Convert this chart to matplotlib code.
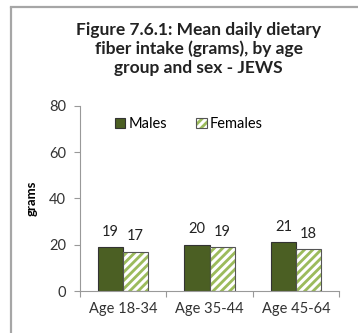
import matplotlib
matplotlib.use("Agg")
from matplotlib import pyplot as plt
from matplotlib.lines import Line2D
from matplotlib.patches import Patch
import numpy as np

groups = ["Age 18-34", "Age 35-44", "Age 45-64"]
males = [19, 20, 21]
females = [17, 19, 18]

plt.rcParams['font.family'] = ['Lato', 'DejaVu Sans']
plt.rcParams['hatch.linewidth'] = 2.2

fig = plt.figure(figsize=(3.58, 3.33), dpi=100)
ax = fig.add_axes([0.2235, 0.126, 0.7235, 0.556])

green = '#9cbb5c'
x = np.arange(len(groups))
w = 0.29
b1 = ax.bar(x - w/2, males, w, color='#4b5f23', edgecolor='#333333', linewidth=0.8)
# hatched fill first (white stripes), then the outline on top
ax.bar(x + w/2, females, w, color=green, edgecolor='white', linewidth=0, hatch='////')
b2 = ax.bar(x + w/2, females, w, fill=False, edgecolor='#555555', linewidth=0.8)

for bars in (b1, b2):
    for r in bars:
        ax.annotate("%d" % r.get_height(), (r.get_x() + r.get_width()/2, r.get_height()),
                    xytext=(0, 6), textcoords='offset points', ha='center', va='bottom',
                    fontsize=10.5, color='#222222')

ax.set_xlim(-0.5, 2.5)
ax.set_ylim(0, 80)
ax.set_yticks([0, 20, 40, 60, 80])
ax.set_xticks([-0.5, 0.5, 1.5, 2.5])
ax.set_xticklabels([])
ax.set_xticks(x, minor=True)
ax.set_xticklabels(groups, minor=True)
ax.tick_params(axis='x', which='minor', length=0, labelsize=10.5, pad=8, labelcolor='#333333')
ax.tick_params(axis='x', which='major', length=4, color='#999999')
ax.tick_params(axis='y', length=4, color='#999999', labelsize=10.5, pad=6, labelcolor='#333333')
for s in ['top', 'right']:
    ax.spines[s].set_visible(False)
for s in ['left', 'bottom']:
    ax.spines[s].set_color('#999999')

ax.set_ylabel("grams", fontsize=9.5, fontweight='bold', labelpad=8)

h_m = Patch(facecolor='#4b5f23', edgecolor='#333333', linewidth=0.8)
h_f = (Patch(facecolor=green, edgecolor='white', linewidth=0, hatch='////'),
       Patch(fill=False, edgecolor='#555555', linewidth=0.8))
ax.legend([h_m, h_f], ['Males', 'Females'], loc='upper center', bbox_to_anchor=(0.42, 1.01),
          ncol=2, frameon=False, fontsize=10.5, handlelength=0.75, handleheight=0.75,
          handletextpad=0.2, columnspacing=2.0)

fig.text(0.555, 0.935, "Figure 7.6.1: Mean daily dietary\nfiber intake (grams), by age\ngroup and sex - JEWS",
         ha='center', va='top', fontsize=12.5, fontweight='bold', linespacing=1.2,
         color='#222222')

fig.add_artist(Line2D([11/358, 11/358], [0, 1 - 8/333], transform=fig.transFigure,
                      color='#a6a6a6', linewidth=1.6))
fig.add_artist(Line2D([11/358, 1], [1 - 7/333, 1 - 7/333], transform=fig.transFigure,
                      color='#a6a6a6', linewidth=1.6))

fig.savefig("out.png", dpi=100)
